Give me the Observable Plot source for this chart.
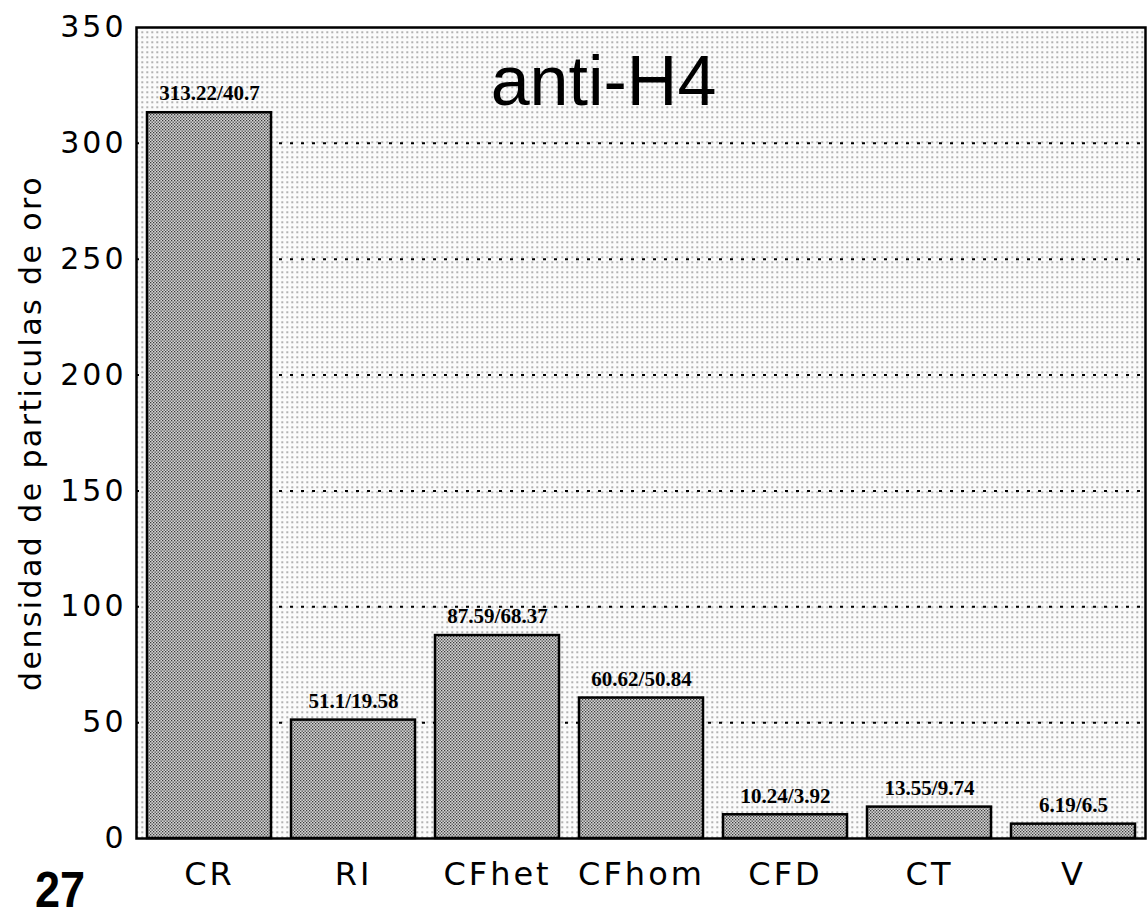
<!DOCTYPE html>
<html><head><meta charset="utf-8">
<script src="https://cdn.jsdelivr.net/npm/d3@7"></script>
<script src="https://cdn.jsdelivr.net/npm/@observablehq/plot@0.6"></script>
<style>
body{margin:0;background:#fff;}
#wrap{position:relative;width:1148px;height:920px;overflow:hidden;}
#num{position:absolute;left:35px;top:865px;height:50px;font:bold 50px/50px "Liberation Sans",Arial,sans-serif;color:#000;transform:scaleX(0.9);transform-origin:0 0;}
</style>
</head><body>
<div id="wrap"><div id="chart"></div><div id="num">27</div></div>
<script>
const categories = ["CR", "RI", "CFhet", "CFhom", "CFD", "CT", "V"];
const values = [313.22, 51.1, 87.59, 60.62, 10.24, 13.55, 6.19];
const valueLabels = ["313.22/40.7", "51.1/19.58", "87.59/68.37", "60.62/50.84", "10.24/3.92", "13.55/9.74", "6.19/6.5"];
const yTicks = [0, 50, 100, 150, 200, 250, 300, 350];
const gridValues = [50, 100, 150, 200, 250, 300];
const title = "anti-H4";
const yLabel = "densidad de particulas de oro";

const data = categories.map((c, i) => ({cat: c, value: values[i], label: valueLabels[i]}));
const sans = "'Liberation Sans', Arial, sans-serif";
const wide = "'DejaVu Sans', 'Liberation Sans', sans-serif";

const chart = Plot.plot({
  width: 1148,
  height: 920,
  marginLeft: 136,
  marginRight: 3,
  marginTop: 27,
  marginBottom: 82,
  style: {fontFamily: sans, background: "#fff", color: "#000"},
  x: {domain: categories, paddingInner: 0.14, paddingOuter: 0.062, label: null},
  y: {domain: [0, 350], label: null},
  marks: [
    Plot.frame({fill: "url(#bgdots)", stroke: "none"}),
    Plot.ruleY(gridValues, {stroke: "#000", strokeWidth: 2, strokeDasharray: "3,8"}),
    Plot.barY(data, {x: "cat", y: "value", fill: "url(#barcheck)", stroke: "#000", strokeWidth: 2.5}),
    Plot.text(data, {x: "cat", y: "value", text: "label", dy: -19, fontFamily: "'Liberation Serif', 'Times New Roman', serif", fontWeight: "bold", fontSize: 21, fill: "#000"}),
    Plot.frame({stroke: "#000", strokeWidth: 2.5}),
    Plot.axisY({ticks: yTicks, tickSize: 0, tickPadding: 10, fontSize: 30, fontFamily: wide, label: null, fill: "#000"}),
    Plot.axisX({tickSize: 0, tickPadding: 24, fontSize: 32, fontFamily: wide, label: null, fill: "#000"}),
    Plot.text([title], {frameAnchor: "top-left", dx: 467, dy: 55, textAnchor: "middle", lineAnchor: "middle", fontSize: 70, fill: "#000", fontFamily: sans}),
    Plot.text([yLabel], {frameAnchor: "left", rotate: -90, dx: -105, dy: 0, textAnchor: "middle", lineAnchor: "middle", fontSize: 30, fill: "#000", fontFamily: wide})
  ]
});

// widen the scanned-looking lettering
d3.select(chart).selectAll('[aria-label="y-axis tick label"] text').style("letter-spacing", "3px");
d3.select(chart).selectAll('[aria-label="x-axis tick label"] text').style("letter-spacing", "3px");
d3.select(chart).selectAll("text").filter(function() { return this.textContent === yLabel; }).style("letter-spacing", "2.4px");

// patterns for the scanned-dot look
const ns = "http://www.w3.org/2000/svg";
const defs = document.createElementNS(ns, "defs");
defs.innerHTML = `
<pattern id="bgdots" width="5" height="5" patternUnits="userSpaceOnUse">
  <rect width="5" height="5" fill="#fbfbfb"/>
  <rect x="1" y="1" width="1.4" height="1.4" fill="#666"/>
</pattern>
<pattern id="barcheck" width="3" height="3" patternUnits="userSpaceOnUse">
  <rect width="3" height="3" fill="#d6d6d6"/>
  <rect x="0" y="0" width="1.3" height="1.3" fill="#3a3a3a"/>
  <rect x="1.5" y="1.5" width="1.3" height="1.3" fill="#3a3a3a"/>
</pattern>`;
chart.insertBefore(defs, chart.firstChild);
document.getElementById("chart").appendChild(chart);
</script>
</body></html>
